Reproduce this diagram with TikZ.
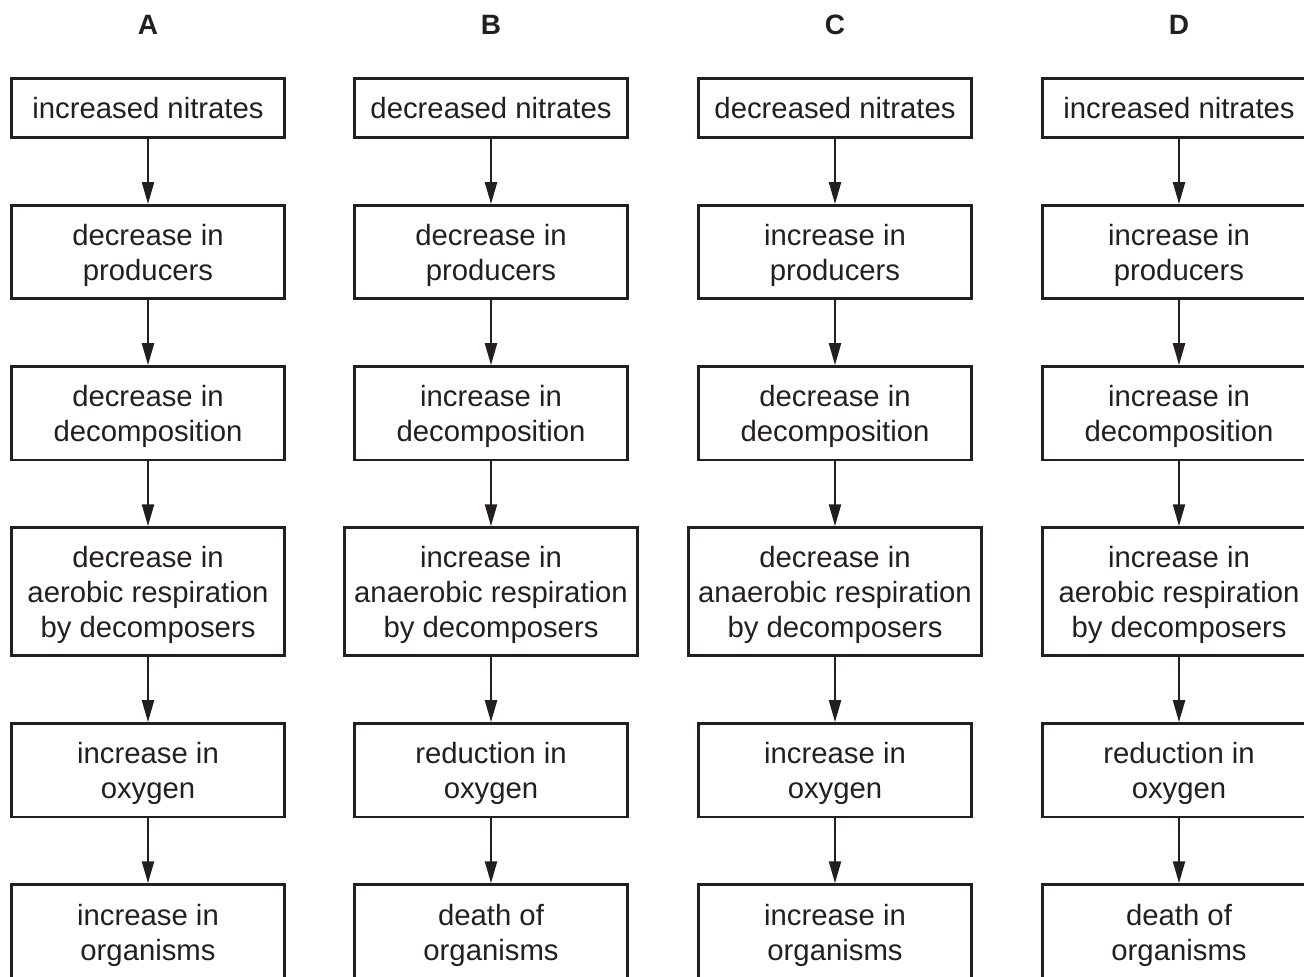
\documentclass[tikz,border=0pt]{standalone}
\usepackage{fontspec}
\setmainfont{Liberation Sans}
\usetikzlibrary{positioning,arrows.meta}
\definecolor{ink}{RGB}{35,31,32}

\begin{document}
\begin{tikzpicture}[x=0.5pt, y=-0.5pt,
    box/.style={draw=ink, text=ink, line width=1.35pt, align=center,
      minimum width=136.4pt, inner xsep=5pt, inner ysep=2pt,
      font=\fontsize{14.65pt}{17.5pt}\selectfont},
    onebox/.style={box, minimum height=29.7pt},
    twobox/.style={box, minimum height=46.7pt,
      execute at begin node={\rule{0pt}{31.8pt}}},
    threebox/.style={box, minimum height=64.1pt,
      execute at begin node={\rule{0pt}{49.3pt}}},
    flow/.style={draw=ink, line width=1.15pt, -{Triangle[length=11pt,width=6pt]}},
    colhead/.style={text=ink, font=\fontsize{14pt}{16pt}\selectfont\bfseries},
    node distance=32.5pt]

  \useasboundingbox (0,0) rectangle (1304,976);

  \node[colhead] (headA) at (148,25) {A};
  \node[colhead] (headB) at (491,25) {B};
  \node[colhead] (headC) at (835,25) {C};
  \node[colhead] (headD) at (1179,25) {D};

  % column A
  \node[onebox] (a1) at (148,108) {increased nitrates};
  \node[twobox, below=of a1] (a2) {decrease in\\producers};
  \node[twobox, below=of a2] (a3) {decrease in\\decomposition};
  \node[threebox, below=of a3] (a4) {decrease in\\aerobic respiration\\by decomposers};
  \node[twobox, below=of a4] (a5) {increase in\\oxygen};
  \node[twobox, below=of a5] (a6) {increase in\\organisms};

    \draw[flow] (a1) -- (a2);
    \draw[flow] (a2) -- (a3);
    \draw[flow] (a3) -- (a4);
    \draw[flow] (a4) -- (a5);
    \draw[flow] (a5) -- (a6);

  % column B
  \node[onebox] (b1) at (491,108) {decreased nitrates};
  \node[twobox, below=of b1] (b2) {decrease in\\producers};
  \node[twobox, below=of b2] (b3) {increase in\\decomposition};
  \node[threebox, below=of b3] (b4) {increase in\\anaerobic respiration\\by decomposers};
  \node[twobox, below=of b4] (b5) {reduction in\\oxygen};
  \node[twobox, below=of b5] (b6) {death of\\organisms};

    \draw[flow] (b1) -- (b2);
    \draw[flow] (b2) -- (b3);
    \draw[flow] (b3) -- (b4);
    \draw[flow] (b4) -- (b5);
    \draw[flow] (b5) -- (b6);

  % column C
  \node[onebox] (c1) at (835,108) {decreased nitrates};
  \node[twobox, below=of c1] (c2) {increase in\\producers};
  \node[twobox, below=of c2] (c3) {decrease in\\decomposition};
  \node[threebox, below=of c3] (c4) {decrease in\\anaerobic respiration\\by decomposers};
  \node[twobox, below=of c4] (c5) {increase in\\oxygen};
  \node[twobox, below=of c5] (c6) {increase in\\organisms};

    \draw[flow] (c1) -- (c2);
    \draw[flow] (c2) -- (c3);
    \draw[flow] (c3) -- (c4);
    \draw[flow] (c4) -- (c5);
    \draw[flow] (c5) -- (c6);

  % column D
  \node[onebox] (d1) at (1179,108) {increased nitrates};
  \node[twobox, below=of d1] (d2) {increase in\\producers};
  \node[twobox, below=of d2] (d3) {increase in\\decomposition};
  \node[threebox, below=of d3] (d4) {increase in\\aerobic respiration\\by decomposers};
  \node[twobox, below=of d4] (d5) {reduction in\\oxygen};
  \node[twobox, below=of d5] (d6) {death of\\organisms};

    \draw[flow] (d1) -- (d2);
    \draw[flow] (d2) -- (d3);
    \draw[flow] (d3) -- (d4);
    \draw[flow] (d4) -- (d5);
    \draw[flow] (d5) -- (d6);
\end{tikzpicture}
\end{document}
